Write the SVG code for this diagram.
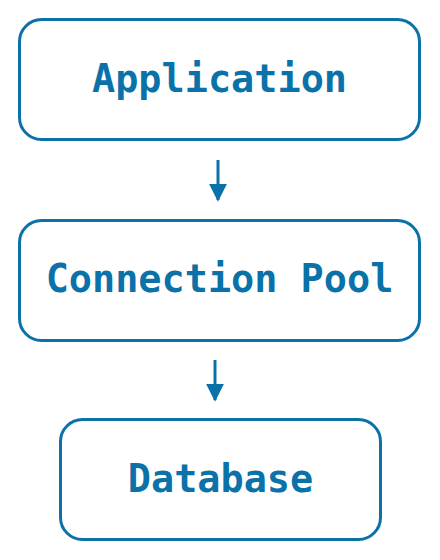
<svg xmlns="http://www.w3.org/2000/svg" width="440" height="560" viewBox="0 0 440 560">
<style>
.box{fill:#ffffff;stroke:#0a72a9;stroke-width:3}
.lbl{font-family:"DejaVu Sans Mono","Liberation Mono",monospace;font-weight:bold;font-size:38.5px;fill:#0a72a9;text-anchor:middle}
.edge{stroke:#0a72a9;stroke-width:3;fill:none}
</style>
<defs>
<marker id="arrow" viewBox="0 0 10 10" refX="9" refY="5" markerWidth="18" markerHeight="18" markerUnits="userSpaceOnUse" orient="auto">
<path d="M0,0 L10,5 L0,10 Z" fill="#0a72a9"/>
</marker>
</defs>
<rect width="440" height="560" fill="#ffffff"/>
<g id="connectors">
<line class="edge" x1="218" y1="160" x2="218" y2="200" marker-end="url(#arrow)"/>
<line class="edge" x1="215" y1="360" x2="215" y2="400" marker-end="url(#arrow)"/>
</g>
<g id="application">
<rect class="box" x="19.5" y="19.5" width="400" height="120" rx="22"/>
<text class="lbl" x="219.5" y="92">Application</text>
</g>
<g id="connection-pool">
<rect class="box" x="19.5" y="220.5" width="400" height="120" rx="22"/>
<text class="lbl" x="219.5" y="292">Connection Pool</text>
</g>
<g id="database">
<rect class="box" x="60.5" y="419.5" width="320" height="120" rx="22"/>
<text class="lbl" x="220.5" y="492">Database</text>
</g>
</svg>
